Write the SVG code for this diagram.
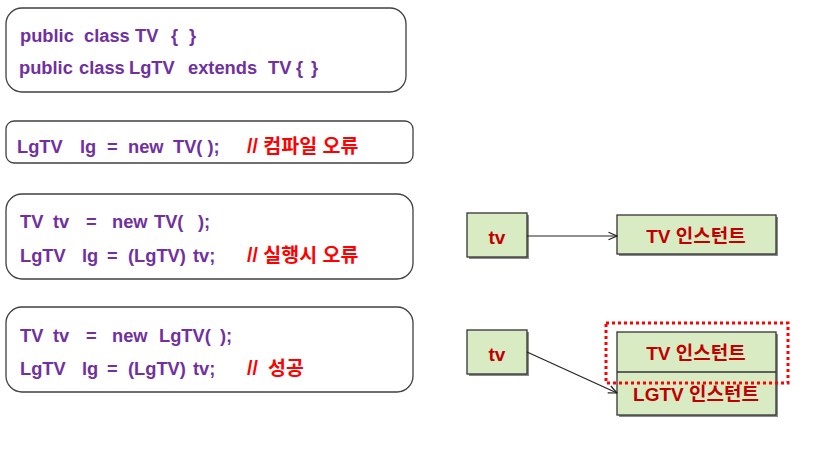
<svg xmlns="http://www.w3.org/2000/svg" width="817" height="460" viewBox="0 0 817 460">
<defs>
<style>
.code{fill:#ffffff;stroke:#404040;stroke-width:1.3}
.c{font-family:"Liberation Sans",Arial,"Noto Sans CJK KR",sans-serif;font-weight:bold;font-size:18.3px;fill:#7030A0}
.r{fill:#FF0000;font-size:19.5px}
.nb{fill:#D9EBC3;stroke:#333333;stroke-width:1.3}
.sh{fill:#8a8a8a}
.nt{font-family:"Liberation Sans",Arial,"Noto Sans CJK KR",sans-serif;font-weight:bold;font-size:19px;fill:#C00000;text-anchor:middle}
.edge{stroke:#222222;stroke-width:1.2;fill:none}
</style>
<marker id="arr" viewBox="0 0 10 10" refX="9.5" refY="5" markerWidth="10" markerHeight="10" markerUnits="userSpaceOnUse" orient="auto">
<path d="M1,1.2 L9.5,5 L1,8.8" fill="none" stroke="#222222" stroke-width="1.2"/>
</marker>
</defs>
<rect width="817" height="460" fill="#ffffff"/>

<g id="code1">
<rect class="code" x="6" y="8" width="400" height="84" rx="16"/>
<text class="c" y="42"><tspan x="20">public</tspan><tspan x="84">class</tspan><tspan x="135">TV</tspan><tspan x="171">{</tspan><tspan x="189">}</tspan></text>
<text class="c" y="74"><tspan x="19">public</tspan><tspan x="79">class</tspan><tspan x="129">LgTV</tspan><tspan x="188">extends</tspan><tspan x="268">TV</tspan><tspan x="296">{</tspan><tspan x="311">}</tspan></text>
</g>

<g id="code2">
<rect class="code" x="6" y="121" width="407" height="42" rx="8"/>
<text class="c" y="153"><tspan x="17">LgTV</tspan><tspan x="80">lg</tspan><tspan x="107">=</tspan><tspan x="128">new</tspan><tspan x="173">TV( );</tspan><tspan x="247" class="r">// 컴파일 오류</tspan></text>
</g>

<g id="code3">
<rect class="code" x="6" y="194" width="407" height="85" rx="16"/>
<text class="c" y="228"><tspan x="20">TV</tspan><tspan x="53">tv</tspan><tspan x="86">=</tspan><tspan x="112">new</tspan><tspan x="154">TV(</tspan><tspan x="198">);</tspan></text>
<text class="c" y="262"><tspan x="20">LgTV</tspan><tspan x="82">lg</tspan><tspan x="107">=</tspan><tspan x="128">(LgTV)</tspan><tspan x="193">tv;</tspan><tspan x="247" class="r">// 실행시 오류</tspan></text>
</g>

<g id="code4">
<rect class="code" x="6" y="307" width="407" height="85" rx="16"/>
<text class="c" y="342"><tspan x="20">TV</tspan><tspan x="53">tv</tspan><tspan x="86">=</tspan><tspan x="112">new</tspan><tspan x="159">LgTV(</tspan><tspan x="220">);</tspan></text>
<text class="c" y="375"><tspan x="20">LgTV</tspan><tspan x="82">lg</tspan><tspan x="107">=</tspan><tspan x="128">(LgTV)</tspan><tspan x="193">tv;</tspan><tspan x="247" class="r">//</tspan><tspan x="268" class="r">성공</tspan></text>
</g>

<g id="tv1">
<rect class="sh" x="469" y="215" width="60" height="44"/>
<rect class="nb" x="467" y="213" width="60" height="44"/>
<text class="nt" x="497" y="244">tv</text>
</g>

<g id="tvInstance1">
<rect class="sh" x="619" y="217" width="159" height="39"/>
<rect class="nb" x="617" y="215" width="159" height="39"/>
<text class="nt" x="696" y="243">TV 인스턴트</text>
</g>

<g id="tv2">
<rect class="sh" x="469" y="332" width="60" height="44"/>
<rect class="nb" x="467" y="330" width="60" height="44"/>
<text class="nt" x="497" y="361">tv</text>
</g>

<g id="lgtvInstance">
<rect class="sh" x="619" y="334" width="159" height="83"/>
<rect class="nb" x="617" y="332" width="159" height="83"/>
<line x1="617" y1="372" x2="776" y2="372" stroke="#333333" stroke-width="1.5"/>
<text class="nt" x="696" y="360">TV 인스턴트</text>
<text class="nt" x="696" y="401">LGTV 인스턴트</text>
</g>

<g id="highlight">
<rect x="606" y="323" width="182" height="60" fill="none" stroke="#FF0000" stroke-width="3" stroke-dasharray="3,3"/>
</g>

<g id="connectors">
<line class="edge" x1="527" y1="236" x2="617" y2="236" marker-end="url(#arr)"/>
<line class="edge" x1="527" y1="352" x2="617" y2="393" marker-end="url(#arr)"/>
</g>
</svg>
